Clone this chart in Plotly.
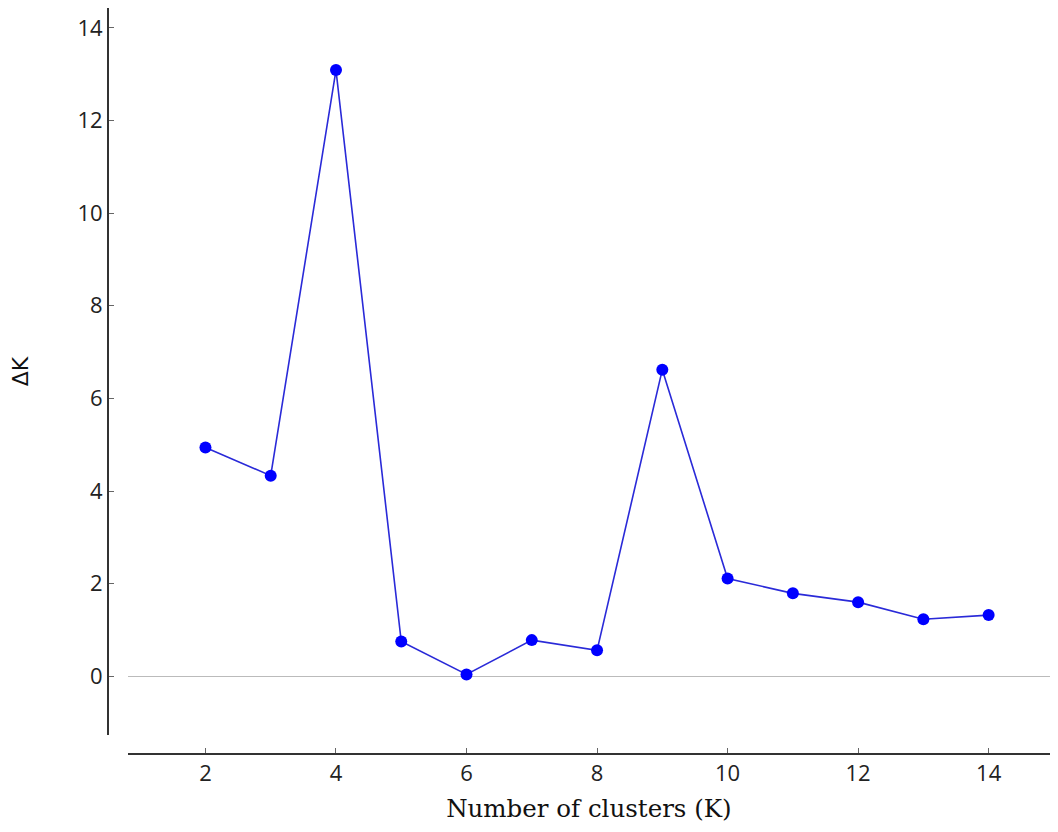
import plotly.graph_objects as go

clusters = [2, 3, 4, 5, 6, 7, 8, 9, 10, 11, 12, 13, 14]
delta_k = [4.94, 4.33, 13.09, 0.75, 0.04, 0.78, 0.56, 6.62, 2.11, 1.79, 1.60, 1.23, 1.32]
x_ticks = [2, 4, 6, 8, 10, 12, 14]
y_ticks = [0, 2, 4, 6, 8, 10, 12, 14]

fig = go.Figure()
fig.add_trace(go.Scatter(
    x=clusters, y=delta_k, mode="lines+markers",
    line=dict(color="#2a2ad8", width=1.6),
    marker=dict(color="#0000ff", size=12, line=dict(width=0)),
    showlegend=False,
))

tick_font = dict(family="Open Sans, DejaVu Sans, sans-serif", size=22, color="#222222")

fig.update_layout(
    width=1042, height=816,
    paper_bgcolor="white", plot_bgcolor="white",
    margin=dict(l=100, r=0, t=0, b=70),
    xaxis=dict(
        domain=[0.021, 1], range=[0.81, 14.94],
        tickmode="array", tickvals=x_ticks,
        ticks="inside", ticklen=5, tickcolor="#666666",
        showline=True, linecolor="#333333", linewidth=2,
        showgrid=False, zeroline=False,
        anchor="free", position=0,
        tickfont=tick_font,
        title=dict(text="Number of clusters (K)",
                   font=dict(family="DejaVu Serif, Liberation Serif, serif", size=24.5, color="#111111"),
                   standoff=12),
    ),
    yaxis=dict(
        domain=[0.0254, 1], range=[-1.27, 14.43],
        tickmode="array", tickvals=y_ticks,
        ticks="inside", ticklen=5, tickcolor="#666666",
        showline=True, linecolor="#333333", linewidth=2,
        showgrid=False,
        zeroline=True, zerolinecolor="#bbbbbb", zerolinewidth=1.2,
        anchor="free", position=0,
        tickfont=tick_font,
        title=dict(text="ΔK", font=dict(family="DejaVu Sans, sans-serif", size=22, color="#111111"),
                   standoff=42),
    ),
)

fig.write_html("out.html")
